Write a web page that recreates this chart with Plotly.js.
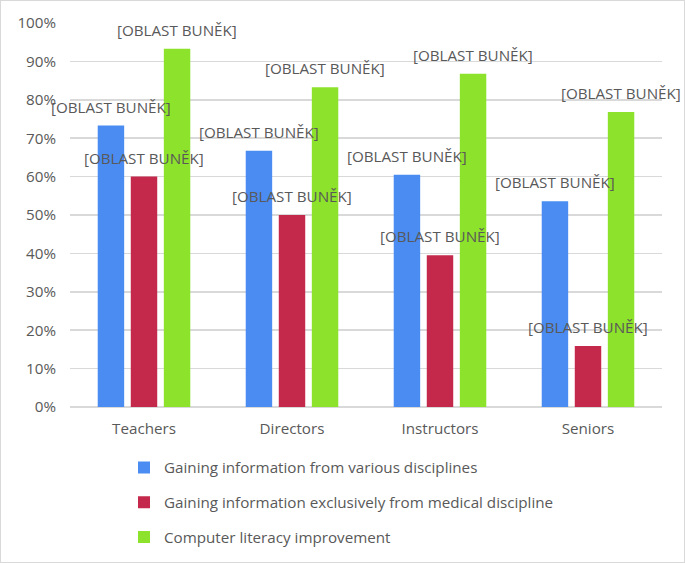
<!DOCTYPE html>
<html>
<head>
<meta charset="utf-8">
<script src="https://cdn.plot.ly/plotly-3.0.1.min.js"></script>
<style>
  body { margin: 0; background: #fff; }
  #wrap { width: 685px; height: 563px; box-sizing: border-box; border: 1px solid #d9d9d9; overflow: hidden; }
</style>
</head>
<body>
<div id="wrap"><div id="chart"></div></div>
<script>
const groups = ['Teachers', 'Directors', 'Instructors', 'Seniors'];
const variousDisc = [73.3, 66.7, 60.5, 53.6];
const medicalOnly = [60.0, 50.0, 39.5, 15.9];
const compLiteracy = [93.3, 83.3, 86.8, 76.8];
const seriesNames = [
    'Gaining information from various disciplines',
    'Gaining information exclusively from medical discipline',
    'Computer literacy improvement'
];
const labelText = '[OBLAST BUNĚK]';

const colors = ['#4a8cf2', '#c4284a', '#8de32b'];
const FONT = '"Open Sans", sans-serif';
const GREY = '#595959';
const FS = 15.2;

const series = [variousDisc, medicalOnly, compLiteracy];

const traces = series.map((vals, i) => ({
    x: groups, y: vals,
    type: 'bar', name: seriesNames[i],
    legendgroup: 'g' + i,
    marker: { color: colors[i] },
    hoverinfo: 'none'
}));

// labels sit a bit above every bar (xshift = offset of the bar in its group)
const slot = 33;
const annotations = [];
series.forEach((vals, i) => {
    vals.forEach((v, k) => {
        annotations.push({
            x: groups[k], y: v, xref: 'x', yref: 'y',
            text: labelText, showarrow: false,
            xshift: (i - 1) * slot, yshift: 19, yanchor: 'middle',
            font: { family: FONT, size: FS, color: GREY }
        });
    });
});

// plot is a bit taller than the frame so the legend never pushes the margins
Plotly.newPlot('chart', traces, {
    width: 683, height: 590,
    margin: { t: 22, r: 22, b: 184, l: 69 },
    paper_bgcolor: '#fff', plot_bgcolor: '#fff',
    font: { family: FONT, size: FS, color: GREY },
    barmode: 'group',
    bargap: 0.33,
    bargroupgap: 0.2,
    xaxis: {
        range: [-0.5, 3.5], autorange: false, automargin: false,
        showgrid: false, zeroline: false, showline: false,
        ticks: '', ticklabelstandoff: 11, tickangle: 0,
        tickfont: { family: FONT, size: FS, color: GREY }
    },
    yaxis: {
        range: [0, 100], autorange: false, automargin: false,
        dtick: 10, ticksuffix: '%',
        gridcolor: '#d9d9d9', gridwidth: 1.5,
        zeroline: true, zerolinecolor: '#d9d9d9', zerolinewidth: 1.5,
        showline: false, ticks: '', ticklabelstandoff: 13,
        tickfont: { family: FONT, size: FS, color: GREY }
    },
    legend: {
        x: (124 - 70) / 592, xanchor: 'left',
        y: -0.115, yanchor: 'top',
        orientation: 'v',
        tracegroupgap: 12,
        font: { family: FONT, size: FS, color: GREY }
    },
    annotations: annotations,
    showlegend: true
}, { displayModeBar: false, staticPlot: true });
</script>
</body>
</html>
